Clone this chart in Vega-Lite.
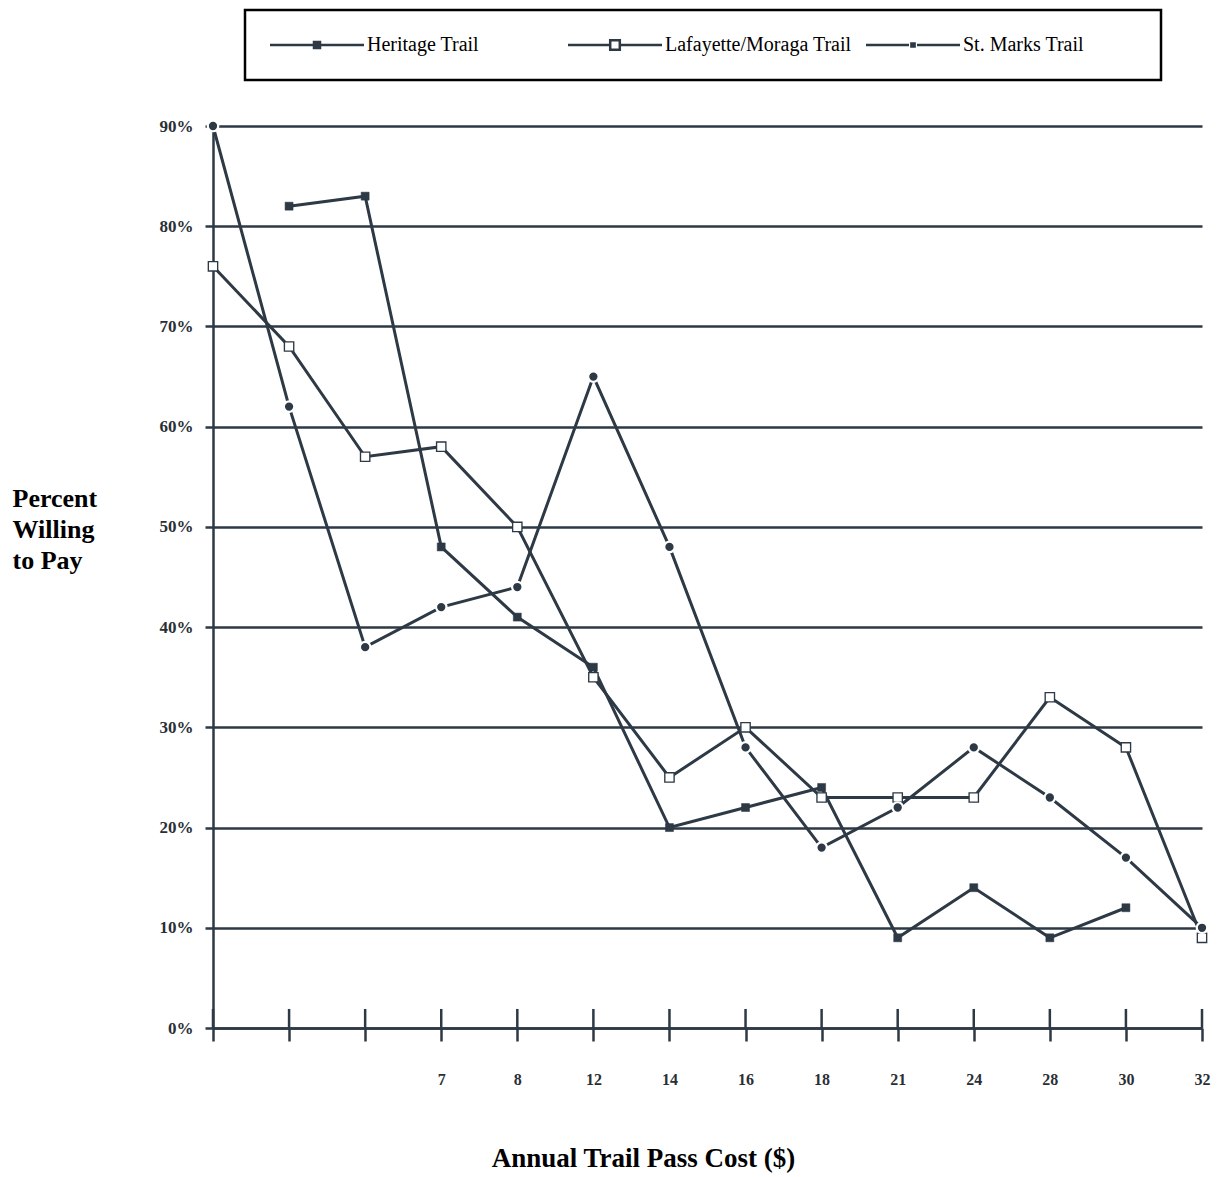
{
  "$schema": "https://vega.github.io/schema/vega-lite/v6.json",
  "width": 997,
  "height": 902,
  "autosize": {"type": "none"},
  "padding": {"left": 213, "top": 126, "right": 10, "bottom": 149},
  "background": "white",
  "config": {
    "view": {"stroke": null},
    "font": "Liberation Serif",
    "axis": {"labelFont": "Liberation Serif", "titleFont": "Liberation Serif"},
    "legend": {"labelFont": "Liberation Serif"}
  },
  "data": {
    "values": [
      {"series": "Heritage Trail", "cost": "  ", "pct": 82},
      {"series": "Heritage Trail", "cost": "   ", "pct": 83},
      {"series": "Heritage Trail", "cost": "7", "pct": 48},
      {"series": "Heritage Trail", "cost": "8", "pct": 41},
      {"series": "Heritage Trail", "cost": "12", "pct": 36},
      {"series": "Heritage Trail", "cost": "14", "pct": 20},
      {"series": "Heritage Trail", "cost": "16", "pct": 22},
      {"series": "Heritage Trail", "cost": "18", "pct": 24},
      {"series": "Heritage Trail", "cost": "21", "pct": 9},
      {"series": "Heritage Trail", "cost": "24", "pct": 14},
      {"series": "Heritage Trail", "cost": "28", "pct": 9},
      {"series": "Heritage Trail", "cost": "30", "pct": 12},
      {"series": "Lafayette/Moraga Trail", "cost": " ", "pct": 76},
      {"series": "Lafayette/Moraga Trail", "cost": "  ", "pct": 68},
      {"series": "Lafayette/Moraga Trail", "cost": "   ", "pct": 57},
      {"series": "Lafayette/Moraga Trail", "cost": "7", "pct": 58},
      {"series": "Lafayette/Moraga Trail", "cost": "8", "pct": 50},
      {"series": "Lafayette/Moraga Trail", "cost": "12", "pct": 35},
      {"series": "Lafayette/Moraga Trail", "cost": "14", "pct": 25},
      {"series": "Lafayette/Moraga Trail", "cost": "16", "pct": 30},
      {"series": "Lafayette/Moraga Trail", "cost": "18", "pct": 23},
      {"series": "Lafayette/Moraga Trail", "cost": "21", "pct": 23},
      {"series": "Lafayette/Moraga Trail", "cost": "24", "pct": 23},
      {"series": "Lafayette/Moraga Trail", "cost": "28", "pct": 33},
      {"series": "Lafayette/Moraga Trail", "cost": "30", "pct": 28},
      {"series": "Lafayette/Moraga Trail", "cost": "32", "pct": 9},
      {"series": "St. Marks Trail", "cost": " ", "pct": 90},
      {"series": "St. Marks Trail", "cost": "  ", "pct": 62},
      {"series": "St. Marks Trail", "cost": "   ", "pct": 38},
      {"series": "St. Marks Trail", "cost": "7", "pct": 42},
      {"series": "St. Marks Trail", "cost": "8", "pct": 44},
      {"series": "St. Marks Trail", "cost": "12", "pct": 65},
      {"series": "St. Marks Trail", "cost": "14", "pct": 48},
      {"series": "St. Marks Trail", "cost": "16", "pct": 28},
      {"series": "St. Marks Trail", "cost": "18", "pct": 18},
      {"series": "St. Marks Trail", "cost": "21", "pct": 22},
      {"series": "St. Marks Trail", "cost": "24", "pct": 28},
      {"series": "St. Marks Trail", "cost": "28", "pct": 23},
      {"series": "St. Marks Trail", "cost": "30", "pct": 17},
      {"series": "St. Marks Trail", "cost": "32", "pct": 10}
    ]
  },
  "encoding": {
    "x": {
      "field": "cost",
      "type": "ordinal",
      "scale": {"type": "point", "domain": [" ", "  ", "   ", "7", "8", "12", "14", "16", "18", "21", "24", "28", "30", "32"], "range": [0, 989], "padding": 0},
      "axis": {
        "labelAngle": 0,
        "domain": true,
        "domainColor": "#2d3945",
        "domainWidth": 2.5,
        "ticks": true,
        "tickSize": 13,
        "tickColor": "#2d3945",
        "tickWidth": 2.5,
        "labelPadding": 30,
        "labelFontSize": 16,
        "labelFontWeight": "bold",
        "labelColor": "#2a2f36",
        "grid": false,
        "title": "Annual Trail Pass Cost ($)",
        "titleFontSize": 27,
        "titleFontWeight": "bold",
        "titleColor": "black",
        "titleX": 430,
        "titleY": 117,
        "titleBaseline": "top",
        "titleAlign": "center",
        "titleAnchor": null
      }
    },
    "y": {
      "field": "pct",
      "type": "quantitative",
      "scale": {"domain": [0, 90], "nice": false},
      "axis": {
        "values": [0, 10, 20, 30, 40, 50, 60, 70, 80, 90],
        "labelExpr": "datum.value + '%'",
        "grid": true,
        "gridColor": "#2d3945",
        "gridWidth": 2.5,
        "gridOpacity": 1,
        "domain": true,
        "domainColor": "#2d3945",
        "domainWidth": 2.5,
        "ticks": true,
        "tickSize": 8,
        "tickColor": "#2d3945",
        "tickWidth": 2.5,
        "labelPadding": 12,
        "labelFontSize": 17,
        "labelFontWeight": "bold",
        "labelColor": "#2a2f36",
        "title": ["Percent", "Willing", "to Pay"],
        "titleAngle": 0,
        "titleAlign": "left",
        "titleBaseline": "alphabetic",
        "titleX": -201,
        "titleY": 380,
        "titleLineHeight": 31,
        "titleFontSize": 26,
        "titleFontWeight": "bold",
        "titleColor": "black"
      }
    }
  },
  "layer": [
    {
      "transform": [{"filter": "datum.series === 'Lafayette/Moraga Trail'"}],
      "mark": {"type": "rule", "color": "#2d3945", "strokeWidth": 2.5, "clip": false},
      "encoding": {
        "y": {"datum": 0},
        "y2": {"datum": 1.9}
      }
    },
    {
      "mark": {"type": "line", "strokeWidth": 3, "clip": false},
      "encoding": {
        "color": {
          "field": "series",
          "type": "nominal",
          "scale": {"domain": ["Heritage Trail", "Lafayette/Moraga Trail", "St. Marks Trail"], "range": ["#2d3945", "#2d3945", "#2d3945"]},
          "legend": {
            "title": null,
            "orient": "none",
            "legendX": 32,
            "legendY": -116,
            "direction": "horizontal",
            "columns": 3,
            "gridAlign": "all",
            "columnPadding": 9,
            "padding": 25,
            "strokeColor": "black",
            "fillColor": "white",
            "symbolSize": 64,
            "symbolOffset": 37,
            "labelOffset": 40,
            "labelFontSize": 20,
            "labelFontWeight": "normal",
            "labelColor": "black",
            "labelLimit": 400,
            "encode": {
              "legend": {"update": {"strokeWidth": {"value": 2.5}}},
              "symbols": {
                "update": {
                  "shape": {"signal": "datum.value === 'Heritage Trail' ? 'M-11.75,0H11.75M-0.75,-0.75H0.75V0.75H-0.75Z' : (datum.value === 'St. Marks Trail' ? 'M-11.75,0H-1M1,0H11.75M-0.4,-0.4H0.4V0.4H-0.4ZM54.5,0' : 'M-11.75,0H-1.2M1.2,0H11.75M-1.2,-1.2H1.2V1.2H-1.2Z')"},
                  "fill": {"signal": "datum.value === 'Lafayette/Moraga Trail' ? 'white' : '#2d3945'"},
                  "stroke": {"value": "#2d3945"},
                  "strokeWidth": {"value": 2.5},
                  "size": {"value": 64},
                  "opacity": {"value": 1}
                }
              }
            }
          }
        }
      }
    },
    {
      "mark": {"type": "point", "filled": true, "opacity": 1, "clip": false},
      "encoding": {
        "shape": {
          "field": "series",
          "type": "nominal",
          "scale": {"range": ["square", "square", "circle"]},
          "legend": null
        },
        "fill": {
          "field": "series",
          "type": "nominal",
          "scale": {"range": ["#2d3945", "white", "#2d3945"]},
          "legend": null
        },
        "stroke": {
          "field": "series",
          "type": "nominal",
          "scale": {"range": ["#2d3945", "#2d3945", "white"]},
          "legend": null
        },
        "strokeWidth": {
          "field": "series",
          "type": "nominal",
          "scale": {"range": [0.5, 2.2, 3]},
          "legend": null
        },
        "size": {
          "field": "series",
          "type": "nominal",
          "scale": {"range": [64, 110, 30]},
          "legend": null
        }
      }
    }
  ]
}
